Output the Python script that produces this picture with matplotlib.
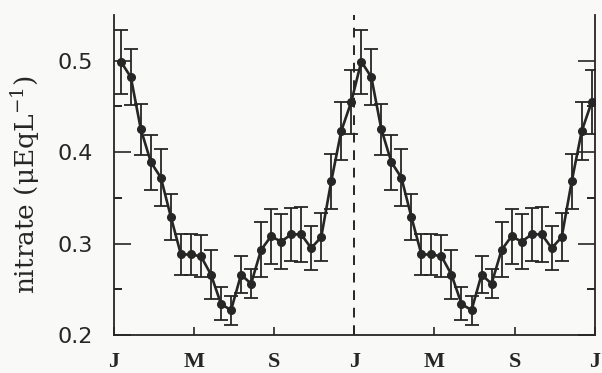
import numpy as np
import matplotlib
matplotlib.use("Agg")
import matplotlib.pyplot as plt

# half-monthly mean nitrate (one year), repeated for two years
nitrate = [0.499, 0.482, 0.425, 0.389, 0.372, 0.329, 0.288, 0.288,
           0.286, 0.266, 0.234, 0.227, 0.266, 0.256, 0.293, 0.308,
           0.302, 0.310, 0.310, 0.295, 0.307, 0.368, 0.423, 0.455]
err = [0.035, 0.031, 0.028, 0.030, 0.031, 0.025, 0.022, 0.022,
       0.023, 0.027, 0.018, 0.016, 0.020, 0.016, 0.030, 0.030,
       0.030, 0.029, 0.030, 0.024, 0.026, 0.030, 0.032, 0.035]
month_ticks = [0, 4, 8, 12, 16, 20, 24]
month_labels = ['J', 'M', 'S', 'J', 'M', 'S', 'J']
y_ticks = [0.2, 0.3, 0.4, 0.5]
y_minor = [0.25, 0.35, 0.45]

plt.rcParams['mathtext.fontset'] = 'custom'
plt.rcParams['mathtext.rm'] = 'DejaVu Serif'

t1 = np.arange(24) * 0.5 + 0.35
t = np.concatenate([t1, t1 + 12])
y = np.array(nitrate + nitrate)
e = np.array(err + err)

bg = '#f9f9f7'
ink = '#262626'
fig = plt.figure(figsize=(6.02, 3.73), dpi=100, facecolor=bg)
ax = fig.add_axes([0.189, 0.102, 0.799, 0.858], facecolor=bg)

ax.errorbar(t, y, yerr=e, color=ink, lw=1.9, marker='o', ms=5.5,
            ecolor=ink, elinewidth=1.3, capsize=5, capthick=1.3)
ax.axvline(12, color=ink, lw=1.4, ls=(0, (5, 4)))

ax.set_xlim(0, 24)
ax.set_ylim(0.2, 0.55)
ax.set_xticks(month_ticks)
ax.set_xticklabels(month_labels, family='Liberation Serif',
                   fontweight='bold', fontsize=16)
ax.set_yticks(y_ticks)
ax.set_yticklabels(['%.1f' % v for v in y_ticks], family='DejaVu Sans',
                   fontsize=16)
ax.set_yticks(y_minor, minor=True)

ax.tick_params(axis='y', which='major', direction='in', length=12, width=1.2,
               left=True, right=True, pad=15, colors=ink)
ax.tick_params(axis='y', which='minor', direction='in', length=6, width=1.2,
               left=True, right=True)
ax.tick_params(axis='x', direction='in', length=6, width=1.2,
               pad=12, colors=ink)

for s in ['left', 'right', 'bottom']:
    ax.spines[s].set_linewidth(1.3)
    ax.spines[s].set_color(ink)
ax.spines['top'].set_visible(False)

ax.set_ylabel('nitrate (μEqL$\\mathregular{^{-1}}$)', family='DejaVu Serif',
              fontsize=19, color=ink)
ax.yaxis.set_label_coords(-0.15, 0.47)

fig.savefig('out.png', dpi=100, facecolor=bg)
